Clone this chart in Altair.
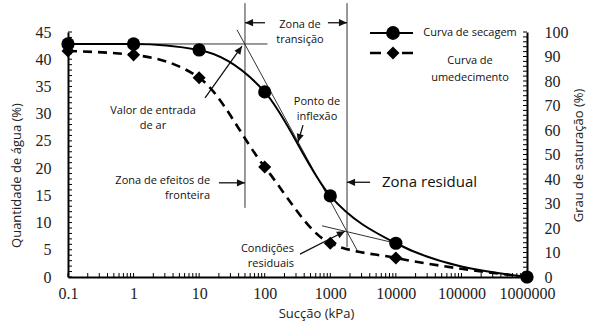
import altair as alt
import pandas as pd

# ---------------- data ----------------
suction = [0.1, 1, 10, 100, 1000, 10000, 1000000]
drying = [42.8, 42.8, 41.7, 34.0, 14.9, 6.2, 0.0]       # Curva de secagem
wetting = [41.5, 40.8, 36.6, 20.2, 6.2, 3.5, 0.0]       # Curva de umedecimento

x_tick_values = [0.1, 1, 10, 100, 1000, 10000, 100000, 1000000]
x_minor_values = [m * d for d in x_tick_values[:-1] for m in range(1, 10)] + [1000000]
y_left_values = list(range(0, 46, 5))
y_left_minor = list(range(0, 46))
y_right_values = list(range(0, 101, 10))
y_right_minor = list(range(0, 101, 2))

# guide lines (kPa, %)
guide_x = [0.1, 50, 1800, 37.8, 748]
guide_x2 = [110, 50, 1800, 2650, 10000]
guide_y = [42.8, 50.3, 50.3, 45.4, 9.4]
guide_y2 = [42.8, 12.7, 5.5, 4.6, 6.2]

# arrows: tail (x, y) -> tip (x2, y2)
arrow_x = [101, 920, 20, 4040, 12.3, 384, 345]
arrow_x2 = [50, 1800, 50, 1800, 45, 322, 1675]
arrow_y = [46.7, 46.7, 17.3, 17.4, 32.9, 27.9, 4.2]
arrow_y2 = [46.7, 46.7, 17.3, 17.4, 42.4, 24.8, 8.4]
arrow_angle = [180, 0, 0, 180, 305, 106, 333]

# annotation texts
note_text = ["Zona de\ntransição", "Valor de entrada\nde ar", "Ponto de\ninflexão"]
note_x = [345, 1.98, 627]
note_y = [46.3, 30.5, 32.1]
note_r_text = ["Zona de efeitos de\nfronteira", "Condições\nresiduais"]
note_r_x = [14.7, 280]
note_r_y = [17.7, 5.2]
resid_text = ["Zona residual"]
resid_x = [6150]
resid_y = [17.4]

# ---------------- chart ----------------
W, H = 459, 245
SANS = "Open Sans"
SERIF = "Liberation Serif"

xs = alt.Scale(type="log", domain=[0.1, 1000000], nice=False)
ys = alt.Scale(domain=[0, 45], nice=False, zero=False)

curves = pd.DataFrame({
    "s": suction * 2,
    "v": drying + wetting,
    "serie": ["sec"] * len(suction) + ["ume"] * len(suction),
})
dry_df = curves[curves.serie == "sec"]
wet_df = curves[curves.serie == "ume"]

x_axis = alt.Axis(values=x_tick_values, format=".1~f", ticks=False, tickSize=0,
                  grid=False, labelFont=SERIF, labelFontSize=16, labelColor="#222",
                  labelPadding=8, domainColor="black", domainWidth=2,
                  title="Sucção (kPa)", titleFont=SANS, titleFontSize=13,
                  titleFontWeight="normal", titleColor="#222", titleX=248, titleY=36,
                  titleBaseline="middle", titleAlign="center", labelFlush=False)
y_axis = alt.Axis(values=y_left_values, ticks=False, tickSize=0, grid=False,
                  labelFont=SERIF, labelFontSize=16, labelColor="#222", labelPadding=17,
                  domainColor="black", domainWidth=2,
                  title="Quantidade de água (%)", titleFont=SANS, titleFontSize=13,
                  titleFontWeight="normal", titleColor="#222", titleAngle=270,
                  titleX=-52, titleY=143, titleBaseline="middle", titleAlign="center")


def X(field):
    return alt.X(field, scale=xs, axis=x_axis)


def Y(field):
    return alt.Y(field, scale=ys, axis=y_axis)


base_x_ticks = alt.Chart(pd.DataFrame({"t": x_minor_values})).mark_rule(
    color="black", strokeWidth=1).encode(
    x=X("t:Q"), y=alt.value(H), y2=alt.value(H - 4))

left_ticks = alt.Chart(pd.DataFrame({"v": y_left_minor})).mark_rule(
    color="black", strokeWidth=1).encode(
    y=Y("v:Q"), x=alt.value(0), x2=alt.value(4))

guides = alt.Chart(pd.DataFrame({"x": guide_x, "x2": guide_x2, "y": guide_y, "y2": guide_y2})).mark_rule(
    color="#333", strokeWidth=1).encode(
    x=X("x:Q"), x2="x2:Q", y=Y("y:Q"), y2="y2:Q")

arrows_df = pd.DataFrame({"x": arrow_x, "x2": arrow_x2, "y": arrow_y, "y2": arrow_y2, "a": arrow_angle})
shafts = alt.Chart(arrows_df).mark_rule(color="#111", strokeWidth=1.3).encode(
    x=X("x:Q"), x2="x2:Q", y=Y("y:Q"), y2="y2:Q")
heads = alt.Chart(arrows_df).mark_point(
    shape="M0,0L-1,-0.45L-1,0.45Z", filled=True, color="#111", opacity=1, size=260).encode(
    x=X("x2:Q"), y=Y("y2:Q"), angle=alt.Angle("a:Q", scale=None))

dry_line = alt.Chart(dry_df).mark_line(color="black", strokeWidth=2, interpolate="monotone").encode(
    x=X("s:Q"), y=Y("v:Q"))
wet_line = alt.Chart(wet_df).mark_line(color="black", strokeWidth=2.6, strokeDash=[9, 6],
                                       interpolate="monotone").encode(
    x=X("s:Q"), y=Y("v:Q"))
dry_pts = alt.Chart(dry_df).mark_point(shape="circle", filled=True, color="black", opacity=1, size=175).encode(
    x=X("s:Q"), y=Y("v:Q"))
wet_pts = alt.Chart(wet_df).mark_point(shape="diamond", filled=True, color="black", opacity=1, size=170).encode(
    x=X("s:Q"), y=Y("v:Q"))

notes_c = alt.Chart(pd.DataFrame({"t": note_text, "x": note_x, "y": note_y})).mark_text(
    font=SANS, fontSize=11, color="#111", align="center", baseline="middle",
    lineBreak="\n", lineHeight=15).encode(
    x=X("x:Q"), y=Y("y:Q"), text="t:N")
notes_r = alt.Chart(pd.DataFrame({"t": note_r_text, "x": note_r_x, "y": note_r_y})).mark_text(
    font=SANS, fontSize=11, color="#111", align="right", baseline="middle",
    lineBreak="\n", lineHeight=15).encode(
    x=X("x:Q"), y=Y("y:Q"), text="t:N")
resid = alt.Chart(pd.DataFrame({"t": resid_text, "x": resid_x, "y": resid_y})).mark_text(
    font=SANS, fontSize=15, color="#111", align="left", baseline="middle").encode(
    x=X("x:Q"), y=Y("y:Q"), text="t:N")

# legend (drawn by hand, top right)
one = pd.DataFrame({"k": [0]})
leg_line1 = alt.Chart(one).mark_rule(color="black", strokeWidth=2).encode(
    x=alt.value(302), x2=alt.value(345), y=alt.value(1))
leg_pt1 = alt.Chart(one).mark_point(shape="circle", filled=True, color="black", opacity=1, size=190).encode(
    x=alt.value(325), y=alt.value(1))
leg_line2 = alt.Chart(one).mark_rule(color="black", strokeWidth=2.6, strokeDash=[11, 21]).encode(
    x=alt.value(302), x2=alt.value(345), y=alt.value(21))
leg_pt2 = alt.Chart(one).mark_point(shape="diamond", filled=True, color="black", opacity=1, size=170).encode(
    x=alt.value(325), y=alt.value(21))
leg_t1 = alt.Chart(one).mark_text(font=SANS, fontSize=11, color="#111", align="center", baseline="middle").encode(
    x=alt.value(402), y=alt.value(1), text=alt.value("Curva de secagem"))
leg_t2 = alt.Chart(one).mark_text(font=SANS, fontSize=11, color="#111", align="center", baseline="middle",
                                  lineHeight=17).encode(
    x=alt.value(402), y=alt.value(28.5), text=alt.value(["Curva de", "umedecimento"]))

left = alt.layer(base_x_ticks, left_ticks, guides, shafts, heads, wet_line, dry_line,
                 wet_pts, dry_pts, notes_c, notes_r, resid,
                 leg_line1, leg_line2, leg_pt1, leg_pt2, leg_t1, leg_t2)

right_axis = alt.Axis(orient="right", values=y_right_values, ticks=False, tickSize=0, grid=False,
                      labelFont=SERIF, labelFontSize=16, labelColor="#222", labelPadding=17,
                      labelAlign="left", domainColor="black", domainWidth=2,
                      title="Grau de saturação (%)", titleFont=SANS, titleFontSize=13,
                      titleFontWeight="normal", titleColor="#222", titleAngle=270,
                      titleX=51, titleY=123, titleBaseline="middle", titleAlign="center")
right = alt.Chart(pd.DataFrame({"sat": y_right_minor})).mark_rule(color="black", strokeWidth=1).encode(
    y=alt.Y("sat:Q", scale=alt.Scale(domain=[0, 100], nice=False), axis=right_axis),
    x=alt.value(W), x2=alt.value(W - 4))

chart = alt.layer(left, right).resolve_scale(y="independent").properties(
    width=W, height=H,
    autosize=alt.AutoSizeParams(type="none"),
    padding={"left": 68, "top": 32, "right": 65, "bottom": 50},
    background="white",
).configure_view(strokeWidth=0)

chart.save("out.html", embed_options={"renderer": "svg", "actions": False})
